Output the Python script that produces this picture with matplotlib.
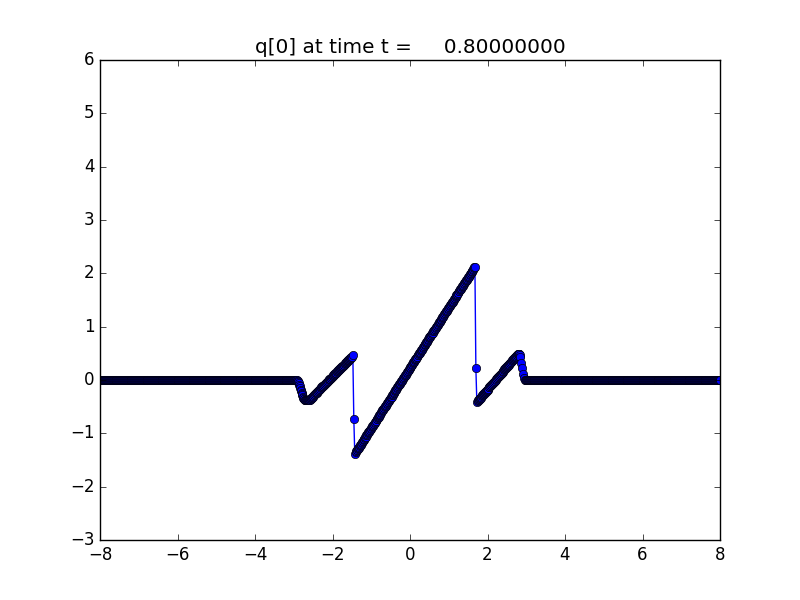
import matplotlib
matplotlib.use("Agg")
import matplotlib.pyplot as plt
import numpy as np

plt.style.use('classic')

t = 0.8
dx = 0.0125

# flat (q = 0) parts of the solution, cell centres
left_flat_x = np.arange(-8.0, -2.93, dx)
right_flat_x = np.arange(2.9875, 8.0001, dx)

# left dip, x = -2.925 ... -2.50
dip_x = np.arange(-2.925, -2.4999, dx)
dip_q = [0.00, -0.01, -0.02, -0.04, -0.06, -0.09, -0.12, -0.15, -0.18, -0.21,
         -0.24, -0.27, -0.29, -0.31, -0.33, -0.35, -0.36, -0.37, -0.37, -0.38,
         -0.38, -0.38, -0.38, -0.38, -0.38, -0.38, -0.37, -0.37, -0.36, -0.35,
         -0.34, -0.33, -0.32, -0.31, -0.30]

# left rise, x = -2.4875 ... -1.50
rise1_x = np.arange(-2.4875, -1.4999, dx)
rise1_q = [-0.29, -0.28, -0.27, -0.26, -0.25, -0.24, -0.24, -0.23, -0.22, -0.21,
           -0.20, -0.19, -0.18, -0.17, -0.16, -0.15, -0.14, -0.13, -0.12, -0.12,
           -0.11, -0.10, -0.09, -0.08, -0.07, -0.06, -0.05, -0.04, -0.03, -0.02,
           -0.01, 0.00, 0.01, 0.01, 0.02, 0.03, 0.04, 0.05, 0.06, 0.07,
           0.08, 0.09, 0.10, 0.11, 0.12, 0.13, 0.13, 0.14, 0.15, 0.16,
           0.17, 0.18, 0.19, 0.20, 0.21, 0.22, 0.23, 0.24, 0.25, 0.26,
           0.26, 0.27, 0.28, 0.29, 0.30, 0.31, 0.32, 0.33, 0.34, 0.35,
           0.36, 0.37, 0.38, 0.38, 0.39, 0.40, 0.41, 0.42, 0.43, 0.44]

# first jump
jump1_x = [-1.475, -1.45, -1.425]
jump1_q = [0.46, -0.73, -1.38]

# central ramp, x = -1.40 ... 1.675
ramp_x = np.arange(-1.40, 1.6751, dx)
ramp_q = [-1.35, -1.34, -1.32, -1.31, -1.30, -1.28, -1.27, -1.25, -1.24, -1.22,
          -1.21, -1.20, -1.18, -1.17, -1.15, -1.14, -1.13, -1.11, -1.10, -1.08,
          -1.07, -1.06, -1.04, -1.03, -1.01, -1.00, -0.98, -0.97, -0.96, -0.94,
          -0.93, -0.91, -0.90, -0.89, -0.87, -0.86, -0.84, -0.83, -0.82, -0.80,
          -0.79, -0.77, -0.76, -0.74, -0.73, -0.72, -0.70, -0.69, -0.67, -0.66,
          -0.65, -0.63, -0.62, -0.60, -0.59, -0.57, -0.56, -0.55, -0.53, -0.52,
          -0.50, -0.49, -0.48, -0.46, -0.45, -0.43, -0.42, -0.41, -0.39, -0.38,
          -0.36, -0.35, -0.33, -0.32, -0.31, -0.29, -0.28, -0.26, -0.25, -0.24,
          -0.22, -0.21, -0.19, -0.18, -0.17, -0.15, -0.14, -0.12, -0.11, -0.09,
          -0.08, -0.07, -0.05, -0.04, -0.02, -0.01, 0.00, 0.02, 0.03, 0.05,
          0.06, 0.07, 0.09, 0.10, 0.12, 0.13, 0.15, 0.16, 0.17, 0.19,
          0.20, 0.22, 0.23, 0.24, 0.26, 0.27, 0.29, 0.30, 0.32, 0.33,
          0.34, 0.36, 0.37, 0.39, 0.40, 0.41, 0.43, 0.44, 0.46, 0.47,
          0.48, 0.50, 0.51, 0.53, 0.54, 0.56, 0.57, 0.58, 0.60, 0.61,
          0.63, 0.64, 0.65, 0.67, 0.68, 0.70, 0.71, 0.72, 0.74, 0.75,
          0.77, 0.78, 0.80, 0.81, 0.82, 0.84, 0.85, 0.87, 0.88, 0.89,
          0.91, 0.92, 0.94, 0.95, 0.96, 0.98, 0.99, 1.01, 1.02, 1.04,
          1.05, 1.06, 1.08, 1.09, 1.11, 1.12, 1.13, 1.15, 1.16, 1.18,
          1.19, 1.20, 1.22, 1.23, 1.25, 1.26, 1.28, 1.29, 1.30, 1.32,
          1.33, 1.35, 1.36, 1.37, 1.39, 1.40, 1.42, 1.43, 1.45, 1.46,
          1.47, 1.49, 1.50, 1.52, 1.53, 1.54, 1.56, 1.57, 1.59, 1.60,
          1.61, 1.63, 1.64, 1.66, 1.67, 1.69, 1.70, 1.71, 1.73, 1.74,
          1.76, 1.77, 1.78, 1.80, 1.81, 1.83, 1.84, 1.85, 1.87, 1.88,
          1.90, 1.91, 1.93, 1.94, 1.95, 1.97, 1.98, 2.00, 2.01, 2.02,
          2.04, 2.05, 2.07, 2.08, 2.10, 2.11, 2.12]

# second jump
jump2_x = [1.70, 1.725]
jump2_q = [0.22, -0.41]

# right rise, x = 1.75 ... 2.70
rise2_x = np.arange(1.75, 2.7001, dx)
rise2_q = [-0.39, -0.38, -0.37, -0.36, -0.35, -0.34, -0.33, -0.31, -0.30, -0.29,
           -0.28, -0.27, -0.26, -0.25, -0.24, -0.23, -0.22, -0.21, -0.20, -0.19,
           -0.18, -0.17, -0.16, -0.14, -0.13, -0.12, -0.11, -0.10, -0.09, -0.08,
           -0.07, -0.06, -0.05, -0.04, -0.03, -0.02, -0.01, 0.00, 0.02, 0.03,
           0.04, 0.05, 0.06, 0.07, 0.08, 0.09, 0.10, 0.11, 0.12, 0.13,
           0.14, 0.15, 0.16, 0.17, 0.19, 0.20, 0.21, 0.22, 0.23, 0.24,
           0.25, 0.26, 0.27, 0.28, 0.29, 0.30, 0.31, 0.32, 0.33, 0.34,
           0.36, 0.37, 0.38, 0.39, 0.40, 0.41, 0.42]

# right bump top and the steep drop back to zero
bump_x = [2.7125, 2.725, 2.7375, 2.75, 2.7625, 2.775, 2.7875, 2.80, 2.8125,
          2.825, 2.8375, 2.85, 2.875, 2.90, 2.925, 2.95, 2.975]
bump_q = [0.43, 0.44, 0.45, 0.46, 0.47, 0.48, 0.49, 0.49, 0.49,
          0.48, 0.46, 0.43, 0.32, 0.22, 0.11, 0.03, 0.00]

x = np.concatenate([left_flat_x, dip_x, rise1_x, jump1_x, ramp_x,
                    jump2_x, rise2_x, bump_x, right_flat_x])
q = np.concatenate([np.zeros(len(left_flat_x)), dip_q, rise1_q, jump1_q, ramp_q,
                    jump2_q, rise2_q, bump_q, np.zeros(len(right_flat_x))])

fig = plt.figure(figsize=(8, 6), dpi=100, facecolor='white')
ax = fig.add_subplot(111)
ax.plot(x, q, 'bo-')
ax.set_xlim(-8, 8)
ax.set_ylim(-3, 6)
ax.set_title('q[0] at time t = %14.8f' % t)

fig.savefig('out.png', dpi=100, facecolor='white')
